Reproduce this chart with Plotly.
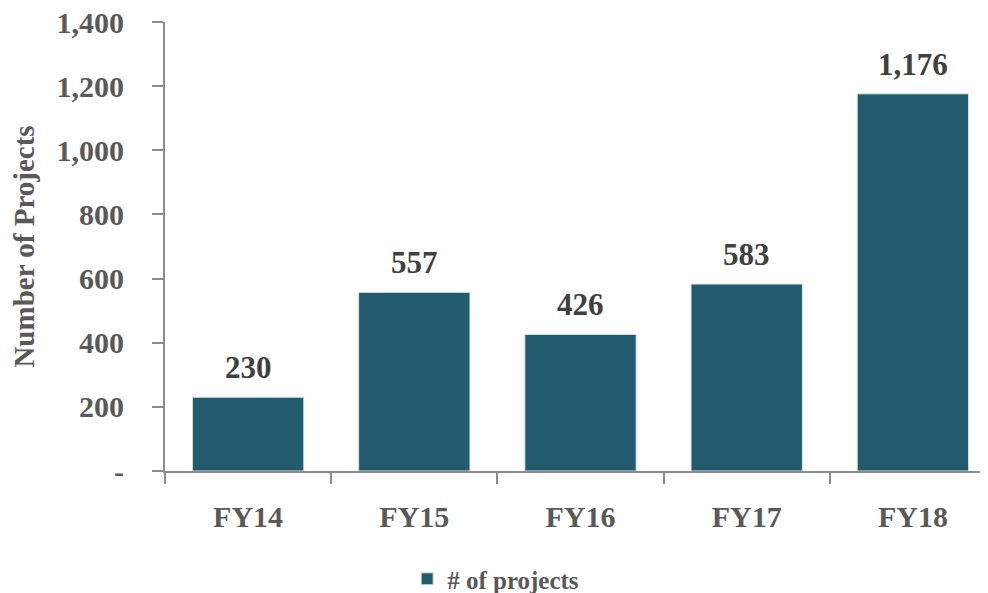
import plotly.graph_objects as go

categories = ["FY14", "FY15", "FY16", "FY17", "FY18"]
projects = [230, 557, 426, 583, 1176]
y_tick_vals = [0, 200, 400, 600, 800, 1000, 1200, 1400]
y_tick_text = ["-", "200", "400", "600", "800", "1,000", "1,200", "1,400"]

FONT = "Liberation Serif"
BAR = "#225B6E"
GRAY = "#595959"

fig = go.Figure()
fig.add_trace(go.Bar(
    x=categories, y=projects, name="# of projects",
    marker=dict(color=BAR, line=dict(color="#D8E3E8", width=1)),
))

for c, v in zip(categories, projects):
    fig.add_annotation(x=c, y=v, text=f"{v:,}", showarrow=False,
                       yanchor="bottom", yshift=10,
                       font=dict(family=FONT, size=31, color="#404040", weight="bold"))

fig.update_layout(
    width=988, height=593,
    margin=dict(l=157, r=0, t=14, b=130),
    paper_bgcolor="white", plot_bgcolor="white",
    bargap=0.33,
    font=dict(family=FONT, color=GRAY, weight="bold"),
    showlegend=True,
    legend=dict(xref="container", yref="container", x=0.404, xanchor="left",
                y=0.037, yanchor="middle",
                orientation="h", itemwidth=30,
                font=dict(family=FONT, size=25, color=GRAY, weight="bold")),
    xaxis=dict(showline=True, linecolor="#8C8C8C", linewidth=2, automargin=False,
               ticks="outside", tickson="boundaries", ticklen=11, tickwidth=2,
               tickcolor="#8C8C8C", showgrid=False,
               tickfont=dict(family=FONT, size=30, color=GRAY, weight="bold"),
               ticklabelstandoff=18),
    yaxis=dict(range=[0, 1400], showline=True, linecolor="#8C8C8C", linewidth=2,
               automargin=False, ticklabeloverflow="allow",
               ticks="outside", ticklen=11, tickwidth=2, tickcolor="#8C8C8C",
               showgrid=False, zeroline=False,
               tickvals=y_tick_vals, ticktext=y_tick_text,
               tickfont=dict(family=FONT, size=30, color=GRAY, weight="bold"),
               ticklabelstandoff=22,
               title=dict(text="Number of Projects",
                          font=dict(family=FONT, size=29, color=GRAY, weight="bold"),
                          standoff=26)),
)

fig.write_html("out.html")
